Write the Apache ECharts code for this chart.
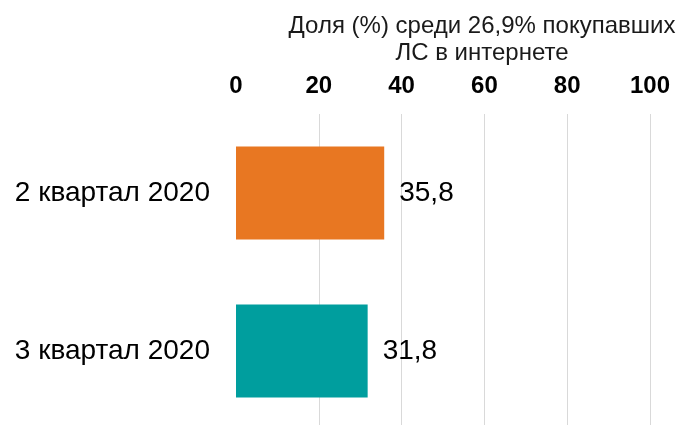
<!DOCTYPE html>
<html>
<head>
<meta charset="utf-8">
<script src="https://cdn.jsdelivr.net/npm/echarts@6/dist/echarts.min.js"></script>
<style>
html, body { margin: 0; padding: 0; background: #fff; }
#chart { width: 682px; height: 425px; }
</style>
</head>
<body>
<div id="chart"></div>
<script>
var categories = ['2 квартал 2020', '3 квартал 2020'];
var values = [35.8, 31.8];
var barColors = ['#E87722', '#009E9E'];
var titleText = 'Доля (%) среди 26,9% покупавших\nЛС в интернете';

var chart = echarts.init(document.getElementById('chart'));
chart.setOption({
    animation: false,
    title: {
        text: titleText,
        left: 477,
        top: 8,
        textAlign: 'center',
        textStyle: {
            fontFamily: 'Liberation Sans, Arial, sans-serif',
            fontSize: 24,
            fontWeight: 'normal',
            color: '#1a1a1a',
            lineHeight: 27
        }
    },
    grid: {
        left: 236,
        width: 414,
        top: 114,
        height: 316,
        outerBoundsMode: 'none'
    },
    xAxis: {
        type: 'value',
        position: 'top',
        min: 0,
        max: 100,
        interval: 20,
        axisLine: { show: false },
        axisTick: { show: false },
        axisLabel: {
            margin: 16,
            fontFamily: 'Liberation Sans, Arial, sans-serif',
            fontSize: 24,
            fontWeight: 'bold',
            color: '#000'
        },
        splitLine: {
            show: true,
            showMinLine: false,
            lineStyle: { color: '#d9d9d9', width: 1 }
        }
    },
    yAxis: {
        type: 'category',
        inverse: true,
        data: categories,
        axisLine: { show: false },
        axisTick: { show: false },
        axisLabel: {
            margin: 26,
            fontFamily: 'Liberation Sans, Arial, sans-serif',
            fontSize: 28,
            color: '#000'
        }
    },
    series: [{
        type: 'bar',
        barWidth: 93,
        data: values.map(function (v, i) {
            return { value: v, itemStyle: { color: barColors[i] } };
        }),
        label: {
            show: true,
            position: 'right',
            distance: 15,
            fontFamily: 'Liberation Sans, Arial, sans-serif',
            fontSize: 28,
            color: '#000',
            formatter: function (p) {
                return String(p.value).replace('.', ',');
            }
        }
    }]
});
</script>
</body>
</html>
